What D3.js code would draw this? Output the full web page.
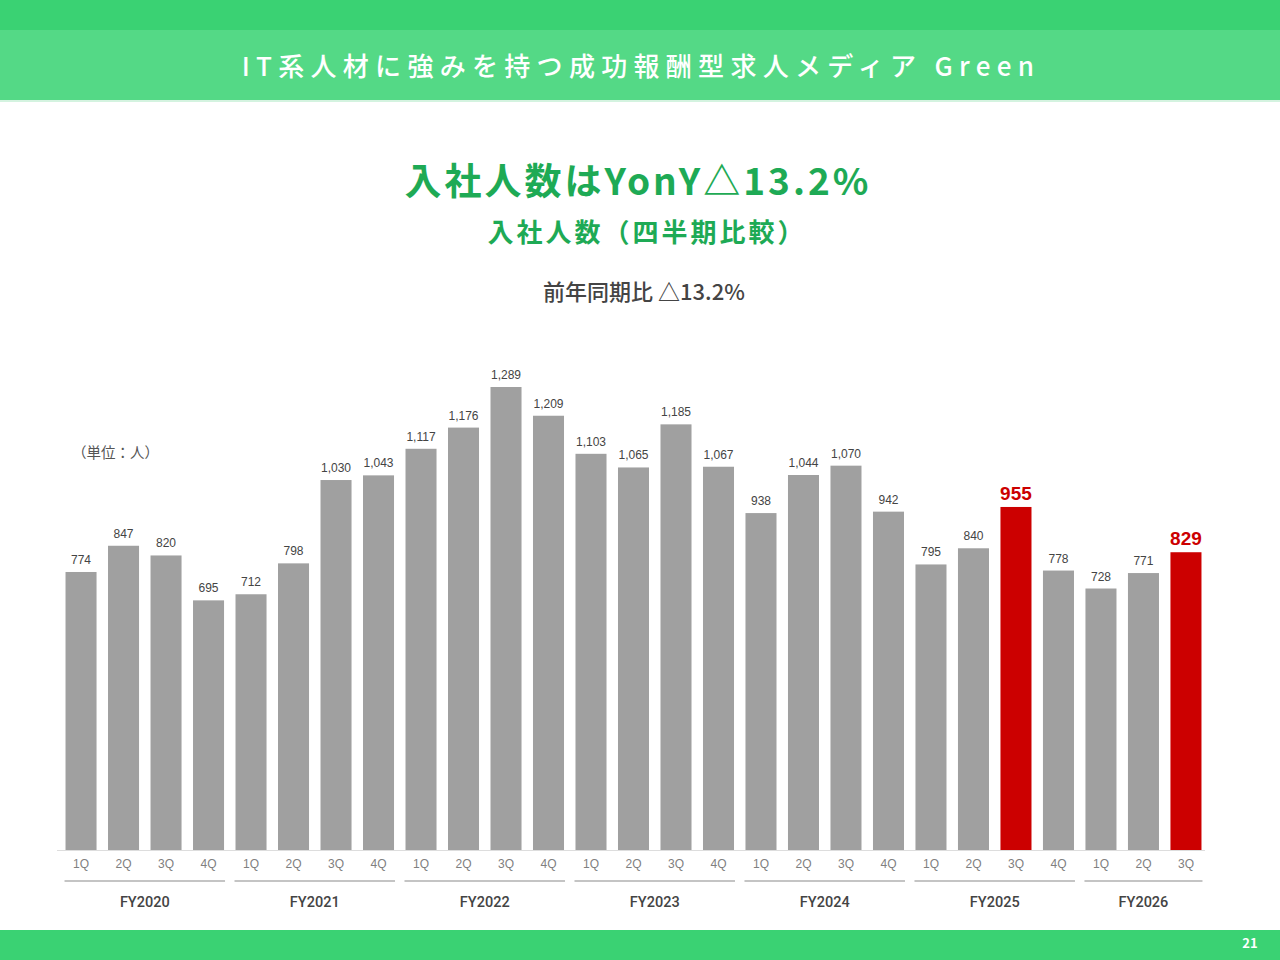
<!DOCTYPE html>
<html>
<head>
<meta charset="utf-8">
<script src="https://cdn.jsdelivr.net/npm/d3@7"></script>
<style>
  body { margin: 0; background: #fff; }
  svg { display: block; font-family: "Noto Sans CJK JP", "Noto Sans", sans-serif; }
</style>
</head>
<body>
<div id="chart"></div>
<script>
// data
const years = ["FY2020", "FY2021", "FY2022", "FY2023", "FY2024", "FY2025", "FY2026"];
const quarters = ["1Q", "2Q", "3Q", "4Q"];
const hires = [
    [774, 847, 820, 695],
    [712, 798, 1030, 1043],
    [1117, 1176, 1289, 1209],
    [1103, 1065, 1185, 1067],
    [938, 1044, 1070, 942],
    [795, 840, 955, 778],
    [728, 771, 829]
];
const highlighted = ["FY2025-3Q", "FY2026-3Q"];

const W = 1280, H = 960;
const chart = {left: 60, right: 1207, baseline: 850, top: 387};

const bars = [];
years.forEach((y, i) => {
    hires[i].forEach((v, j) => {
        bars.push({year: y, q: quarters[j], key: y + "-" + quarters[j], value: v});
    });
});

const svg = d3.select("#chart")
    .append("svg")
    .attr("width", W)
    .attr("height", H);

// header / footer bands
svg.append("rect").attr("x", 0).attr("y", 0).attr("width", W).attr("height", 30).attr("fill", "#3AD273");
svg.append("rect").attr("x", 0).attr("y", 30).attr("width", W).attr("height", 70).attr("fill", "#54D986");
svg.append("rect").attr("x", 0).attr("y", 100).attr("width", W).attr("height", 2).attr("fill", "#D4F3E0");
svg.append("rect").attr("x", 0).attr("y", 930).attr("width", W).attr("height", 30).attr("fill", "#3AD273");

svg.append("text")
    .attr("x", 641).attr("y", 76)
    .attr("text-anchor", "middle")
    .attr("fill", "#fff")
    .attr("font-size", 26)
    .attr("font-weight", 500)
    .attr("letter-spacing", "6.3px")
    .text("IT系人材に強みを持つ成功報酬型求人メディア Green");

svg.append("text")
    .attr("x", 1250).attr("y", 948)
    .attr("text-anchor", "middle")
    .attr("fill", "#fff")
    .attr("font-size", 13)
    .attr("font-weight", "bold")
    .text("21");

// titles
svg.append("text")
    .attr("x", 638).attr("y", 195)
    .attr("text-anchor", "middle")
    .attr("fill", "#1EAA55")
    .attr("font-size", 37)
    .attr("font-weight", "bold")
    .attr("letter-spacing", "3px")
    .text("入社人数はYonY△13.2%");

svg.append("text")
    .attr("x", 647).attr("y", 242)
    .attr("text-anchor", "middle")
    .attr("fill", "#1EAA55")
    .attr("font-size", 26)
    .attr("font-weight", "bold")
    .attr("letter-spacing", "3px")
    .text("入社人数（四半期比較）");

svg.append("text")
    .attr("x", 644).attr("y", 300)
    .attr("text-anchor", "middle")
    .attr("fill", "#444")
    .attr("font-size", 22)
    .attr("font-weight", 500)
    .text("前年同期比 △13.2%");

svg.append("text")
    .attr("x", 72).attr("y", 458)
    .attr("fill", "#555")
    .attr("font-size", 14.5)
    .text("（単位：人）");

// scales
const x = d3.scaleBand()
    .domain(bars.map(d => d.key))
    .range([chart.left, chart.right])
    .paddingInner(0.27)
    .paddingOuter(0.13);

const y = d3.scaleLinear()
    .domain([0, 1289])
    .range([chart.baseline, chart.top]);

const isRed = d => highlighted.includes(d.key);

// baseline
svg.append("line")
    .attr("x1", 57).attr("x2", 1205)
    .attr("y1", chart.baseline + 0.5).attr("y2", chart.baseline + 0.5)
    .attr("stroke", "#ddd");

svg.append("g")
    .selectAll("rect")
    .data(bars)
    .join("rect")
    .attr("x", d => x(d.key))
    .attr("y", d => y(d.value))
    .attr("width", x.bandwidth())
    .attr("height", d => chart.baseline - y(d.value))
    .attr("fill", d => isRed(d) ? "#CC0000" : "#A0A0A0");

const fmt = d3.format(",");
svg.append("g")
    .selectAll("text")
    .data(bars)
    .join("text")
    .attr("x", d => x(d.key) + x.bandwidth() / 2)
    .attr("y", d => y(d.value) - (isRed(d) ? 7 : 8))
    .attr("text-anchor", "middle")
    .attr("font-family", "Liberation Sans, Arial, sans-serif")
    .attr("font-size", d => isRed(d) ? 19 : 12)
    .attr("font-weight", d => isRed(d) ? "bold" : "normal")
    .attr("fill", d => isRed(d) ? "#CC0000" : "#444")
    .text(d => fmt(d.value));

// quarter axis
const xAxis = svg.append("g")
    .attr("transform", `translate(0, ${chart.baseline})`)
    .call(d3.axisBottom(x).tickSize(0).tickPadding(9).tickFormat(k => k.split("-")[1]));
xAxis.select(".domain").remove();
xAxis.selectAll("text")
    .attr("font-family", "Liberation Sans, Arial, sans-serif")
    .attr("font-size", 12)
    .attr("fill", "#808080");

// fiscal year groups
const groups = years.map(yr => {
    const keys = bars.filter(d => d.year === yr).map(d => d.key);
    return {
        year: yr,
        x0: x(keys[0]) - 1,
        x1: x(keys[keys.length - 1]) + x.bandwidth() + 1
    };
});

svg.append("g")
    .selectAll("line")
    .data(groups)
    .join("line")
    .attr("x1", d => d.x0)
    .attr("x2", d => d.x1)
    .attr("y1", 881).attr("y2", 881)
    .attr("stroke", "#C4C4C4")
    .attr("stroke-width", 2);

svg.append("g")
    .selectAll("text")
    .data(groups)
    .join("text")
    .attr("x", d => (d.x0 + d.x1) / 2)
    .attr("y", 907)
    .attr("text-anchor", "middle")
    .attr("font-family", "Roboto, Liberation Sans, sans-serif")
    .attr("font-size", 14.5)
    .attr("font-weight", 500)
    .attr("fill", "#444")
    .text(d => d.year);
</script>
</body>
</html>
